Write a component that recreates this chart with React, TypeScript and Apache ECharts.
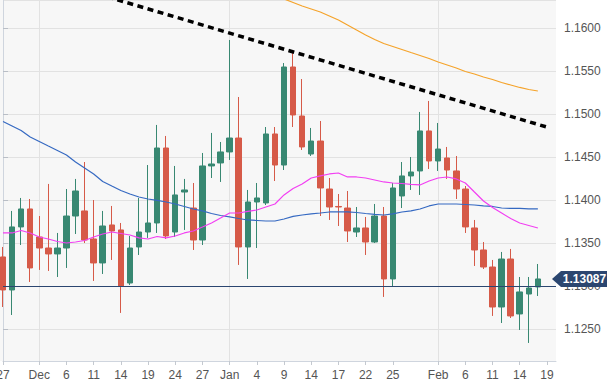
import React, { useEffect, useRef } from "react";
import * as echarts from "echarts";

const categories = [
  "27","28","29","30","Dec","4","5","6","7","10","11","12","13","14","17","18","19","20","21","24","25","26","27","28","31",
  "Jan","2","3","4","7","8","9","10","11","14","15","16","17","18","21","22","23","24","25","28","29","30","31",
  "Feb","4","5","6","7","8","11","12","13","14","15","18","19","20",
];
const labeledIdx = [0,4,7,10,13,16,19,22,25,28,31,34,37,40,43,48,51,54,57,60];
const monthIdx = [4,25,48];

const opens = [1.13343,1.12959,1.13692,1.13901,1.13575,1.13447,1.13378,1.13447,1.13819,1.13878,1.13552,1.13273,1.13715,1.13657,1.13040,1.13459,1.13633,1.13738,1.14610,1.13633,1.14098,1.13912,1.13540,1.14401,1.14436,1.14564,1.14726,1.13459,1.13982,1.13971,1.14773,1.14412,1.15552,1.14982,1.14540,1.14691,1.14133,1.13930,1.13912,1.13633,1.13680,1.13517,1.13819,1.13087,1.14052,1.14285,1.14343,1.14808,1.14459,1.14494,1.14343,1.14133,1.13680,1.13424,1.13226,1.12761,1.13319,1.12680,1.12912,1.12994];
const closes = [1.12959,1.13692,1.13901,1.13215,1.13447,1.13378,1.13447,1.13819,1.14110,1.13540,1.13273,1.13703,1.13645,1.13005,1.13447,1.13633,1.13738,1.14610,1.13587,1.14064,1.14122,1.13540,1.14401,1.14424,1.14564,1.14726,1.13459,1.13982,1.14029,1.14773,1.14412,1.15552,1.14994,1.14622,1.14691,1.14145,1.13924,1.13924,1.13645,1.13680,1.13517,1.13819,1.13087,1.14145,1.14285,1.14331,1.14808,1.14459,1.14598,1.14354,1.14133,1.13692,1.13424,1.13226,1.12761,1.13319,1.12657,1.12936,1.12982,1.13087];
const highs = [1.13459,1.13878,1.14029,1.14017,1.13819,1.14192,1.13622,1.14133,1.14250,1.14447,1.14005,1.13878,1.13936,1.13738,1.13587,1.14029,1.14412,1.14878,1.14750,1.14401,1.14250,1.14203,1.14552,1.14785,1.14680,1.15866,1.15203,1.14122,1.14203,1.14854,1.14854,1.15598,1.15715,1.15412,1.14843,1.14924,1.14261,1.14075,1.14110,1.13924,1.13808,1.13959,1.13924,1.14203,1.14447,1.14505,1.15029,1.15157,1.14901,1.14622,1.14517,1.14168,1.13773,1.13517,1.13308,1.13401,1.13436,1.13110,1.13110,1.13261];
const lows = [1.12761,1.12668,1.13482,1.13052,1.13192,1.13180,1.13110,1.13215,1.13610,1.13505,1.13064,1.13145,1.13308,1.12692,1.13017,1.13366,1.13564,1.13622,1.13552,1.13575,1.13657,1.13424,1.13482,1.14261,1.14215,1.14471,1.13250,1.13087,1.13447,1.13947,1.14226,1.14354,1.14854,1.14587,1.14517,1.13819,1.13773,1.13703,1.13517,1.13575,1.13366,1.13505,1.12878,1.12994,1.13912,1.14122,1.14064,1.14366,1.14343,1.14250,1.14017,1.13622,1.13238,1.13203,1.12657,1.12575,1.12633,1.12494,1.12343,1.12889];

const maBlue = [1.14918,1.14866,1.14814,1.14738,1.14686,1.14633,1.14581,1.14529,1.14447,1.14378,1.14308,1.14221,1.14168,1.14116,1.14075,1.14040,1.14017,1.14000,1.13982,1.13959,1.13930,1.13901,1.13878,1.13848,1.13825,1.13808,1.13790,1.13773,1.13767,1.13761,1.13761,1.13784,1.13814,1.13831,1.13843,1.13854,1.13866,1.13866,1.13866,1.13860,1.13848,1.13837,1.13831,1.13843,1.13866,1.13878,1.13901,1.13936,1.13959,1.13959,1.13959,1.13953,1.13947,1.13936,1.13930,1.13912,1.13907,1.13907,1.13901,1.13901];
const maMagenta = [1.13622,1.13622,1.13651,1.13622,1.13575,1.13552,1.13523,1.13505,1.13517,1.13534,1.13575,1.13610,1.13633,1.13616,1.13598,1.13564,1.13552,1.13581,1.13564,1.13587,1.13622,1.13645,1.13691,1.13738,1.13796,1.13854,1.13854,1.13872,1.13889,1.13924,1.13959,1.14064,1.14139,1.14191,1.14261,1.14285,1.14308,1.14319,1.14273,1.14273,1.14261,1.14238,1.14215,1.14203,1.14197,1.14186,1.14180,1.14226,1.14261,1.14273,1.14250,1.14203,1.14098,1.13994,1.13918,1.13854,1.13790,1.13738,1.13709,1.13680];
const maOrangeStart = 30;
const maOrange = [1.16389,1.16343,1.16302,1.16261,1.16226,1.16191,1.16145,1.16098,1.16040,1.15982,1.15924,1.15872,1.15825,1.15790,1.15755,1.15720,1.15686,1.15651,1.15610,1.15575,1.15540,1.15500,1.15471,1.15436,1.15407,1.15372,1.15343,1.15314,1.15290,1.15273];

// trend line endpoints: [position on category scale, price]
const trendLine = [[11.5, 1.16368], [60.33, 1.14843]];

const lastPrice = 1.13087;
const yMin = 1.12133;
const yMax = 1.16331;

const FONT = "'Liberation Sans', Arial, Helvetica, sans-serif";

export default function App() {
  const ref = useRef<HTMLDivElement>(null);
  useEffect(() => {
    if (!ref.current) return;
    const chart = echarts.init(ref.current, null, { renderer: "svg" });
    const n = categories.length;
    const candleData = categories.map((_, i) =>
      i < opens.length ? [opens[i], closes[i], lows[i], highs[i]] : "-"
    );
    const pad = (arr: number[], start = 0) =>
      categories.map((_, i) => (i >= start && i - start < arr.length ? arr[i - start] : "-"));

    const option: any = {
      animation: false,
      textStyle: { fontFamily: FONT },
      graphic: [
        {
          type: "rect",
          z: -10,
          silent: true,
          shape: { x: 0, y: 0, width: 556, height: 361 },
          style: { fill: "#f7f7f7" },
        },
      ],
      grid: {
        left: 3,
        top: 0,
        right: 56,
        bottom: 30,
        containLabel: false,
        outerBoundsMode: "none",
      },
      xAxis: [
        {
          type: "category",
          data: categories,
          boundaryGap: false,
          axisLine: { show: true, lineStyle: { color: "#cfd5de", width: 1 } },
          axisTick: {
            show: true,
            length: 4,
            interval: (i: number) => labeledIdx.includes(i),
            lineStyle: { color: "#c4c9d0" },
          },
          axisLabel: {
            interval: (i: number) => labeledIdx.includes(i),
            color: "#555",
            fontSize: 12,
            margin: 8,
            fontFamily: FONT,
          },
          splitLine: {
            show: true,
            interval: (i: number) => monthIdx.includes(i),
            lineStyle: { color: "#e2e2e2", width: 1 },
          },
        },
        { type: "value", min: 0, max: n - 1, show: false },
      ],
      yAxis: {
        type: "value",
        position: "right",
        min: yMin,
        max: yMax,
        splitNumber: 8,
        minInterval: 0.005,
        maxInterval: 0.005,
        axisLine: { show: true, lineStyle: { color: "#cfd5de", width: 1 } },
        axisTick: { show: true, length: 5, lineStyle: { color: "#b9bec6" } },
        axisLabel: {
          color: "#555",
          fontSize: 12,
          margin: 8,
          fontFamily: FONT,
          showMinLabel: false,
          showMaxLabel: false,
          formatter: (v: number) => v.toFixed(4),
        },
        splitLine: { show: true, lineStyle: { color: "#e2e2e2", width: 1 } },
      },
      series: [
        {
          type: "candlestick",
          data: candleData,
          barWidth: 6,
          clip: false,
          itemStyle: {
            color: "#388872",
            color0: "#d65a48",
            borderColor: "#388872",
            borderColor0: "#d65a48",
            borderWidth: 1,
          },
          markLine: {
            silent: true,
            symbol: "none",
            label: { show: false },
            lineStyle: { color: "#2b4670", width: 1, type: "solid" },
            data: [{ yAxis: lastPrice }],
          },
          markPoint: {
            silent: true,
            symbol: "path://M0,8 L9,0 L55,0 L55,16 L9,16 Z",
            symbolSize: [55, 16],
            symbolKeepAspect: false,
            symbolOffset: [23.5, 0],
            itemStyle: { color: "#2b4670" },
            label: {
              show: true,
              position: "inside",
              offset: [5, 0],
              color: "#fff",
              fontWeight: "bold",
              fontSize: 12,
              fontFamily: FONT,
              formatter: () => lastPrice.toFixed(5),
            },
            data: [{ coord: [n - 1, lastPrice], value: lastPrice }],
          },
        },
        {
          type: "line",
          data: pad(maBlue),
          symbol: "none",
          lineStyle: { color: "#3569c2", width: 1.2 },
          z: 3,
        },
        {
          type: "line",
          data: pad(maMagenta),
          symbol: "none",
          lineStyle: { color: "#f23ff2", width: 1.2 },
          z: 3,
        },
        {
          type: "line",
          data: pad(maOrange, maOrangeStart),
          symbol: "none",
          lineStyle: { color: "#f5a32a", width: 1.2 },
          z: 3,
        },
        {
          type: "line",
          xAxisIndex: 1,
          data: trendLine,
          symbol: "none",
          lineStyle: { color: "#000", width: 3.5, type: [6, 4.5] },
          z: 4,
        },
      ],
    };
    chart.setOption(option);
    return () => chart.dispose();
  }, []);
  return (
    <div
      ref={ref}
      style={{ position: "absolute", left: 0, top: 0, width: 612, height: 391 }}
    />
  );
}
